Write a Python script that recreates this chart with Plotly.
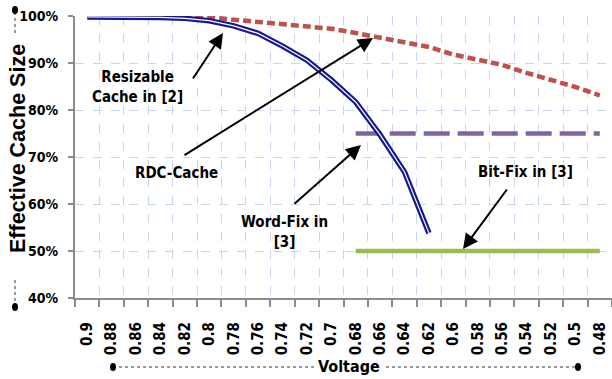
import plotly.graph_objects as go

voltages = ["0.9", "0.88", "0.86", "0.84", "0.82", "0.8", "0.78", "0.76", "0.74", "0.72", "0.7",
            "0.68", "0.66", "0.64", "0.62", "0.6", "0.58", "0.56", "0.54", "0.52", "0.5", "0.48"]

resizable = [100, 100, 100, 100, 99.9, 99.7, 99.2, 98.8, 98.3, 97.9, 97.3,
             96.4, 95.4, 94.6, 93.4, 91.8, 90.6, 89.6, 87.9, 86.4, 84.9, 83.1]
rdc_volt = ["0.9", "0.88", "0.86", "0.84", "0.82", "0.8", "0.78", "0.76", "0.74", "0.72", "0.7",
            "0.68", "0.66", "0.64", "0.62"]
rdc = [99.8, 99.8, 99.7, 99.7, 99.5, 99.0, 97.9, 96.3, 93.6, 90.6, 86.4, 81.7, 74.7, 66.8, 53.8]
fix_volt = ["0.68", "0.66", "0.64", "0.62", "0.6", "0.58", "0.56", "0.54", "0.52", "0.5", "0.48"]
word_fix = [75] * len(fix_volt)
bit_fix = [50] * len(fix_volt)

FONT = "DejaVu Sans Condensed, Liberation Sans Narrow, Arial Narrow, sans-serif"

fig = go.Figure()
fig.add_trace(go.Scatter(x=voltages, y=resizable, mode="lines",
                         line=dict(color="#C0504D", width=4.5, dash="8px,4px")))
fig.add_trace(go.Scatter(x=fix_volt, y=word_fix, mode="lines",
                         line=dict(color="#8064A2", width=4.5, dash="26px,8px")))
fig.add_trace(go.Scatter(x=fix_volt, y=bit_fix, mode="lines",
                         line=dict(color="#9BBB59", width=4.5)))
fig.add_trace(go.Scatter(x=rdc_volt, y=rdc, mode="lines",
                         line=dict(color="#16168F", width=5.5)))
fig.add_trace(go.Scatter(x=rdc_volt, y=rdc, mode="lines",
                         line=dict(color="#FFFFFF", width=1.2)))

L, T, W, H = 75, 16, 537, 282


def px(xp):
    return (xp - L) / W


def py(yp):
    return (T + H - yp) / H


shapes = []
dot_line = dict(color="#333333", width=1, dash="dot")
# y-axis decoration
shapes.append(dict(type="line", xref="paper", yref="paper", x0=px(15), x1=px(15), y0=py(12), y1=py(36), line=dot_line))
shapes.append(dict(type="line", xref="paper", yref="paper", x0=px(15), x1=px(15), y0=py(280), y1=py(306), line=dot_line))
# x-axis decoration
shapes.append(dict(type="line", xref="paper", yref="paper", x0=px(113), x1=px(314), y0=py(367), y1=py(367), line=dot_line))
shapes.append(dict(type="line", xref="paper", yref="paper", x0=px(386), x1=px(578), y0=py(367), y1=py(367), line=dot_line))
for cx, cy in [(15, 10), (15, 307), (113, 367), (578, 367)]:
    shapes.append(dict(type="circle", xref="paper", yref="paper",
                       x0=px(cx - 3), x1=px(cx + 3), y0=py(cy + 4), y1=py(cy - 4),
                       fillcolor="black", line=dict(color="black", width=0)))

ann_font = dict(family=FONT, size=15, color="black", weight="bold")
C = dict(xref="paper", yref="paper", showarrow=False, xanchor="center", yanchor="middle")
annotations = [
    dict(text="Resizable<br>Cache in [2]", x=px(137), y=py(87), font=ann_font, align="center", **C),
    dict(text="RDC-Cache", x=px(176), y=py(173), font=ann_font, **C),
    dict(text="Word-Fix in<br>[3]", x=px(284), y=py(232), font=ann_font, align="center", **C),
    dict(text="Bit-Fix in [3]", x=px(525), y=py(172), font=ann_font, **C),
    dict(text="Voltage", x=px(349), y=py(366), font=dict(family=FONT, size=16, color="black", weight="bold"), **C),
    dict(text="Effective Cache Size", x=px(18), y=py(149), textangle=-90,
         font=dict(family="Liberation Sans, Arial, sans-serif", size=21.5, color="black", weight="bold"), **C),
]
# arrows: (tail) -> (tip) in pixel space
arrows = [((192, 80), (223, 33)), ((183, 156), (373, 38)), ((293, 205), (361, 145)), ((508, 188), (463, 249))]
for (tx, ty), (hx, hy) in arrows:
    annotations.append(dict(text="", x=px(hx), y=py(hy), xref="paper", yref="paper",
                            ax=tx - hx, ay=ty - hy, axref="pixel", ayref="pixel",
                            showarrow=True, arrowhead=2, arrowsize=1.5, arrowwidth=2, arrowcolor="black"))

fig.update_layout(
    width=612, height=379,
    margin=dict(l=L, r=612 - L - W, t=T, b=379 - T - H),
    paper_bgcolor="white", plot_bgcolor="white",
    showlegend=False,
    shapes=shapes, annotations=annotations,
    xaxis=dict(type="category", categoryorder="array", categoryarray=voltages,
               tickson="boundaries", ticks="outside", ticklen=7, tickcolor="#8C8C8C", tickwidth=2,
               showline=True, linecolor="#8C8C8C", linewidth=2,
               showgrid=True, gridcolor="#C6D5F0", griddash="dash", gridwidth=1,
               tickangle=-90, ticklabelstandoff=16,
               tickfont=dict(family=FONT, size=15, color="black", weight="bold"),
               range=[-0.5, 21.5], zeroline=False),
    yaxis=dict(range=[40, 100], dtick=10, ticksuffix="%", ticks="outside", ticklen=5,
               tickcolor="#8C8C8C", tickwidth=2, showline=True, linecolor="#8C8C8C", linewidth=2,
               showgrid=True, gridcolor="#C6D5F0", griddash="dash", gridwidth=1,
               ticklabelstandoff=7,
               tickfont=dict(family=FONT, size=14, color="black", weight="bold"), zeroline=False),
)
fig.write_html("out.html", config={"displayModeBar": False},
               post_script="document.body.style.margin='0';document.body.style.overflow='hidden';")
